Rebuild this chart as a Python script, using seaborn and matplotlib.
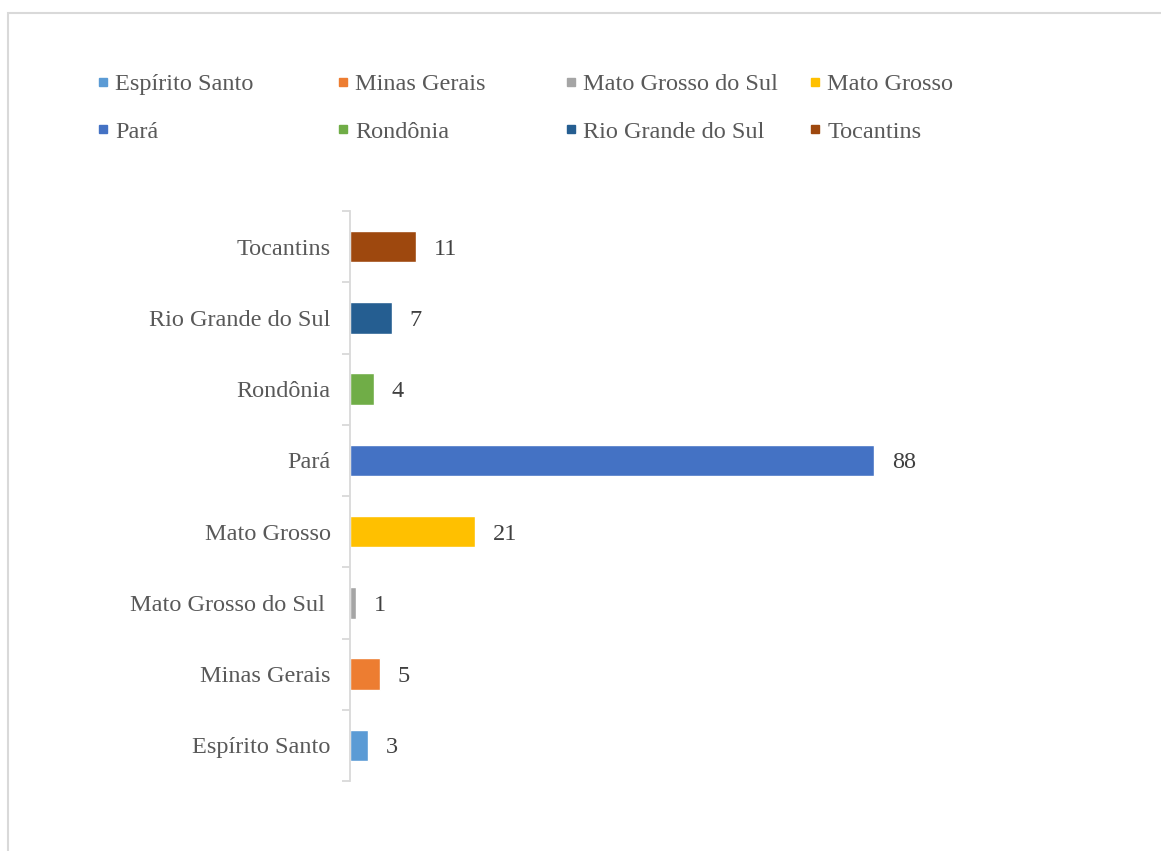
import matplotlib
matplotlib.use("Agg")
import matplotlib.pyplot as plt
from matplotlib.lines import Line2D
from matplotlib.patches import Rectangle
import seaborn as sns
import pandas as pd

states = ["Espírito Santo", "Minas Gerais", "Mato Grosso do Sul ", "Mato Grosso",
          "Pará", "Rondônia", "Rio Grande do Sul", "Tocantins"]
values = [3, 5, 1, 21, 88, 4, 7, 11]
colors = ["#5B9BD5", "#ED7D31", "#A5A5A5", "#FFC000",
          "#4472C4", "#70AD47", "#255E91", "#9E480E"]

df = pd.DataFrame({"state": states, "value": values})
palette = dict(zip(states, colors))
order = states[::-1]

sns.set_theme(style="white")
plt.rcParams["font.family"] = ["Liberation Serif", "DejaVu Serif"]

W, H = 1161, 851
fig = plt.figure(figsize=(W / 100, H / 100), dpi=100)
ax = fig.add_axes([350 / W, 1 - 781 / H, (946 - 350) / W, (781 - 211) / H])

sns.barplot(data=df, x="value", y="state", hue="state", palette=palette,
            order=order, hue_order=order, legend=False, width=0.44,
            saturation=1, ax=ax)

ax.set_xlim(0, 100)
ax.set_ylim(len(states) - 0.5, -0.5)
ax.set_xlabel("")
ax.set_ylabel("")
ax.set_xticks([])
for s in ["top", "right", "bottom"]:
    ax.spines[s].set_visible(False)
ax.spines["left"].set_color("#d9d9d9")
ax.spines["left"].set_linewidth(1.3)

ax.set_yticks(range(len(states)))
ax.set_yticklabels(order)
ax.tick_params(axis="y", which="major", left=True, length=0, pad=14,
               labelsize=17.5, labelcolor="#595959")
ax.set_yticks([i - 0.5 for i in range(len(states) + 1)], minor=True)
ax.tick_params(axis="y", which="minor", left=True, length=6, width=1.3,
               color="#d9d9d9", direction="out")

for c in ax.containers:
    for t in ax.bar_label(c, padding=13, fontsize=17.5, color="#404040"):
        t.set_va("center_baseline")

# legend: 4 columns, 2 rows (row-wise order like the original)
col_x = [96, 336, 564, 808]
for j in range(4):
    idx = [j, j + 4]
    handles = [Line2D([], [], marker="s", linestyle="none", markersize=5.5,
                      color=colors[i]) for i in idx]
    fig.legend(handles, [states[i].strip() for i in idx], loc="upper left",
               bbox_to_anchor=(col_x[j] / W, 1 - 73 / H), frameon=False,
               fontsize=17.5, labelcolor="#595959", handlelength=0.6,
               handletextpad=0.2, borderpad=0, borderaxespad=0,
               labelspacing=1.05)

fig.patches.append(Rectangle((8 / W, -0.05), 1.2, 1 - 13 / H + 0.05,
                             transform=fig.transFigure, fill=False,
                             edgecolor="#d9d9d9", linewidth=1.5))

fig.savefig("out.png", dpi=100)
